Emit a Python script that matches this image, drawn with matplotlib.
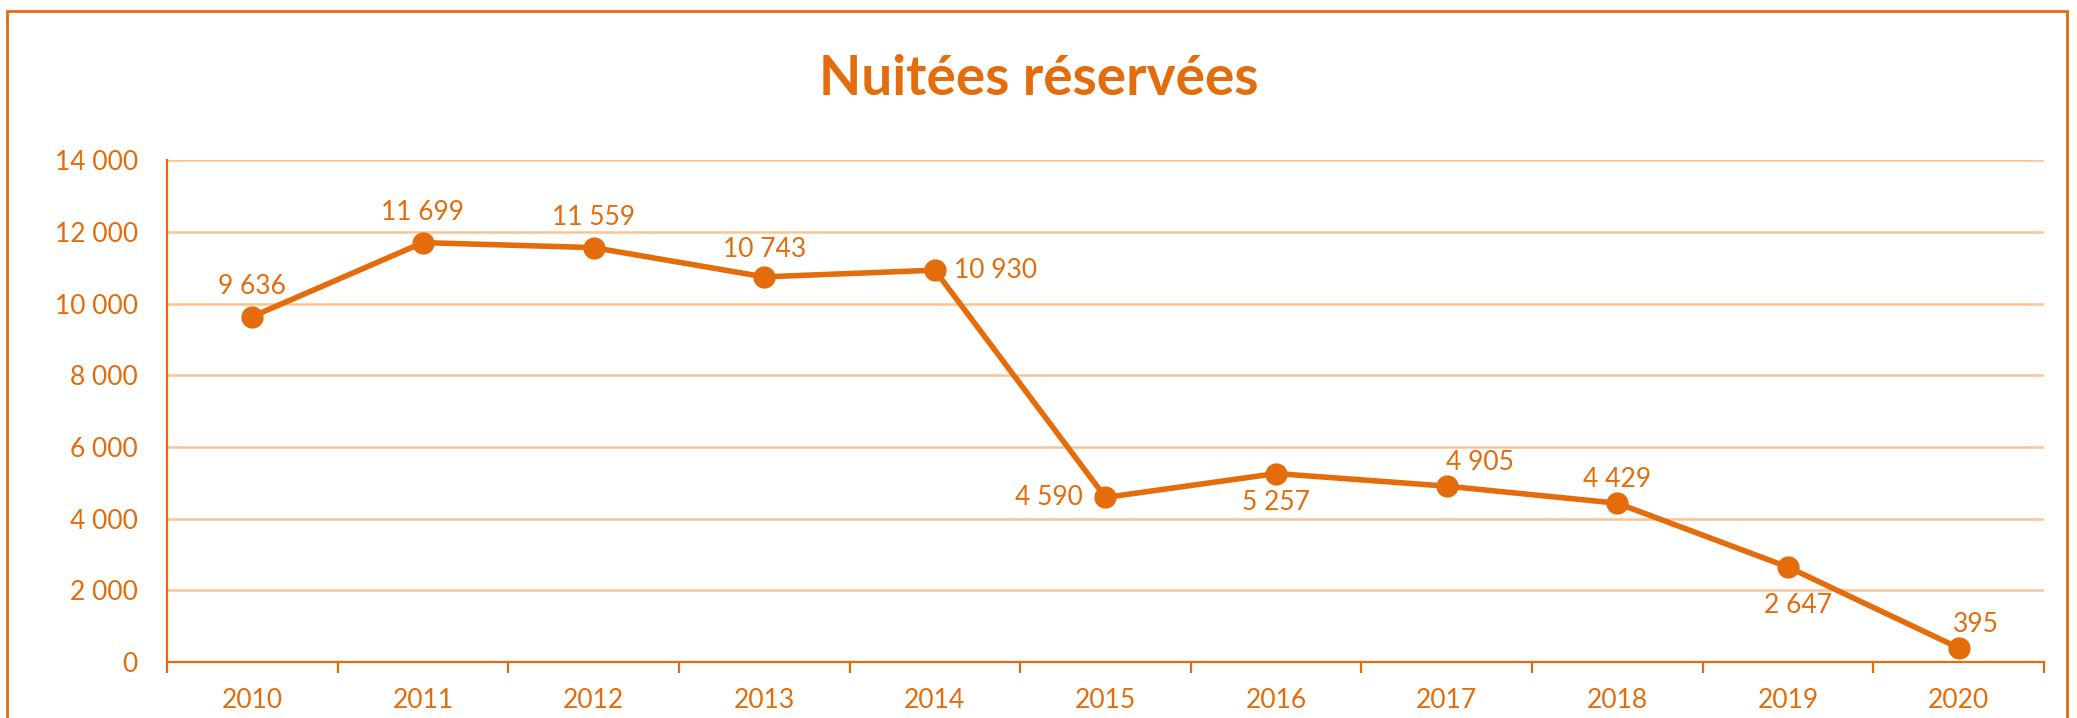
import numpy as np
import matplotlib.pyplot as plt
from matplotlib.patches import Rectangle

years = ['2010', '2011', '2012', '2013', '2014', '2015', '2016', '2017', '2018', '2019', '2020']
nuitees = [9636, 11699, 11559, 10743, 10930, 4590, 5257, 4905, 4429, 2647, 395]
yticks = [0, 2000, 4000, 6000, 8000, 10000, 12000, 14000]

orange = '#E46C0A'
grid_col = '#FAC596'

# label offsets in points (dx, dy, ha, va)
offsets = [(0, 13, 'center', 'bottom'), (0, 13, 'center', 'bottom'), (0, 13, 'center', 'bottom'),
           (0, 11, 'center', 'bottom'), (14, 0, 'left', 'center'), (-16, 0, 'right', 'center'),
           (0, -12, 'center', 'top'), (24, 8, 'center', 'bottom'), (0, 8, 'center', 'bottom'),
           (7, -19, 'center', 'top'), (12, 8, 'center', 'bottom')]

def fmt(v):
    return f'{v:,}'.replace(',', ' ')

plt.rcParams['font.family'] = ['Lato', 'DejaVu Sans']

fig = plt.figure(figsize=(20.77, 7.18), dpi=100)
ax = fig.add_axes([0.0804, 0.078, 0.9037, 0.699])

x = np.arange(len(years))
ax.plot(x, nuitees, color=orange, lw=4, marker='o', ms=15, zorder=3, clip_on=False)

for xi, v, (dx, dy, ha, va) in zip(x, nuitees, offsets):
    ax.annotate(fmt(v), (xi, v), xytext=(dx, dy), textcoords='offset points',
                ha=ha, va=va, fontsize=19, color=orange)

ax.set_xlim(-0.5, len(years) - 0.5)
ax.set_ylim(0, 14000)
ax.set_yticks(yticks)
ax.set_yticklabels([fmt(t) for t in yticks])
ax.set_xticks(x)
ax.set_xticklabels(years)
ax.set_xticks(np.arange(-0.5, len(years), 1), minor=True)

ax.tick_params(axis='y', length=0, pad=21, labelsize=19, labelcolor=orange)
ax.tick_params(axis='x', which='major', length=0, pad=19, labelsize=19, labelcolor=orange)
ax.tick_params(axis='x', which='minor', length=8, width=1.6, color=orange, direction='out')

ax.grid(axis='y', color=grid_col, lw=1.8)
ax.set_axisbelow(True)
for s in ['top', 'right']:
    ax.spines[s].set_visible(False)
for s in ['left', 'bottom']:
    ax.spines[s].set_color(orange)
    ax.spines[s].set_linewidth(1.6)

fig.text(0.5, 0.89, 'Nuitées réservées', ha='center', va='center',
         fontsize=39.5, fontweight='bold', color=orange)

fig.patches.append(Rectangle((0.0035, -0.02), 0.9915, 1.005, transform=fig.transFigure,
                             fill=False, edgecolor=orange, lw=2, zorder=0))

fig.savefig('out.png', dpi=100, facecolor='white')
